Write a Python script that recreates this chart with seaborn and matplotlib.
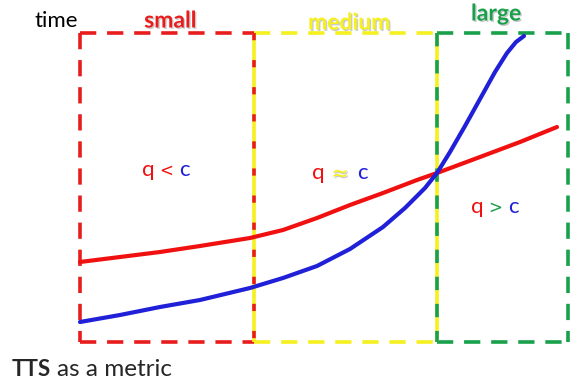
import matplotlib
matplotlib.use('Agg')
import matplotlib.pyplot as plt
import matplotlib.patheffects as pe
import pandas as pd
import seaborn as sns

# curve samples (horizontal position, time; time grows upwards)
red_x = [80, 120, 160, 200, 250, 283, 317, 350, 383, 417, 437, 480, 520, 557]
red_t = [262, 257, 252, 246, 238, 230, 218, 205, 193, 180, 173, 157, 142, 127]
blue_x = [80, 120, 160, 200, 250, 283, 317, 350, 383, 405, 425, 437, 450, 465, 480, 495, 507, 516, 524]
blue_t = [322, 315, 307, 300, 288, 278, 266, 249, 227, 208, 188, 173, 152, 126, 99, 72, 53, 42, 36]

# regions
region_names = ['small', 'medium', 'large']
region_colors = ['#e81c1c', '#f5f01e', '#18a04a']
region_edges = [80, 254, 437, 568]
box_top, box_bottom = 33, 342

RED = '#f01010'
BLUE = '#2020d8'

sns.set_theme(style='white')
plt.rcParams['font.family'] = ['Lato', 'DejaVu Sans']

fig = plt.figure(figsize=(5.81, 3.87), dpi=100)
ax = fig.add_axes([0, 0, 1, 1])

dash = (4.5, 3)
lw = 2.6
# horizontal edges of each box
for i, col in enumerate(region_colors):
    x0, x1 = region_edges[i], region_edges[i + 1]
    ax.hlines([box_top, box_bottom], x0, x1, colors=col, linewidth=lw,
              linestyles=[(0, dash)], zorder=1)
# outer vertical edges
ax.vlines(region_edges[0], box_top, box_bottom, colors=region_colors[0],
          linewidth=lw, linestyles=[(0, dash)], zorder=1)
ax.vlines(region_edges[3], box_top, box_bottom, colors=region_colors[2],
          linewidth=lw, linestyles=[(0, dash)], zorder=1)
# shared edges: yellow underneath, neighbour colour dashes in between
for x, col, d in [(region_edges[1], region_colors[0], (0, (2.0, 5.5))),
                  (region_edges[2], region_colors[2], (0, (3.7, 3.8)))]:
    ax.vlines(x, box_top, box_bottom, colors=region_colors[1], linewidth=lw, zorder=1)
    ax.vlines(x, box_top, box_bottom, colors=col, linewidth=lw,
              linestyles=[d], zorder=1.5)

df = pd.concat([
    pd.DataFrame({'x': red_x, 't': red_t, 'kind': 'q'}),
    pd.DataFrame({'x': blue_x, 't': blue_t, 'kind': 'c'}),
])
sns.lineplot(data=df, x='x', y='t', hue='kind', palette={'q': RED, 'c': BLUE},
             sort=False, linewidth=3.0, legend=False, ax=ax, zorder=3)
for ln in ax.lines[-2:]:
    ln.set_solid_capstyle('round')
    ln.set_solid_joinstyle('round')
ax.set_xlim(0, 581)
ax.set_ylim(387, 0)
ax.axis('off')

shadow = [pe.withSimplePatchShadow(offset=(1, -1), shadow_rgbFace='#999999', alpha=0.5)]
label_pos = [(170, 21), (349, 23), (496, 14)]
for name, col, (lx, ly) in zip(region_names, region_colors, label_pos):
    ax.text(lx, ly, name, color=col, fontsize=16.5, fontweight='bold',
            ha='center', va='center', path_effects=shadow)

ax.text(56, 21, 'time', fontsize=16, color='black', ha='center', va='center')

def relation(cx, cy, sym, sym_col, w, sym_size):
    ax.text(cx - w, cy, 'q', color=RED, fontsize=16, ha='center', va='center')
    ax.text(cx, cy + 1, sym, color=sym_col, fontsize=sym_size, ha='center', va='center',
            family='DejaVu Sans', path_effects=shadow if sym == '≈' else None)
    ax.text(cx + w, cy, 'c', color=BLUE, fontsize=16, ha='center', va='center')

relation(166, 170, '<', RED, 18, 12)
relation(340, 173, '≈', '#f5f01e', 22, 15)
relation(495, 207, '>', region_colors[2], 18, 12)

ax.text(12, 369, 'TTS', fontsize=16, fontweight='bold', ha='left', va='center')
ax.text(57, 369, 'as a metric', fontsize=17.5, ha='left', va='center')

fig.savefig('out.png', dpi=100)
